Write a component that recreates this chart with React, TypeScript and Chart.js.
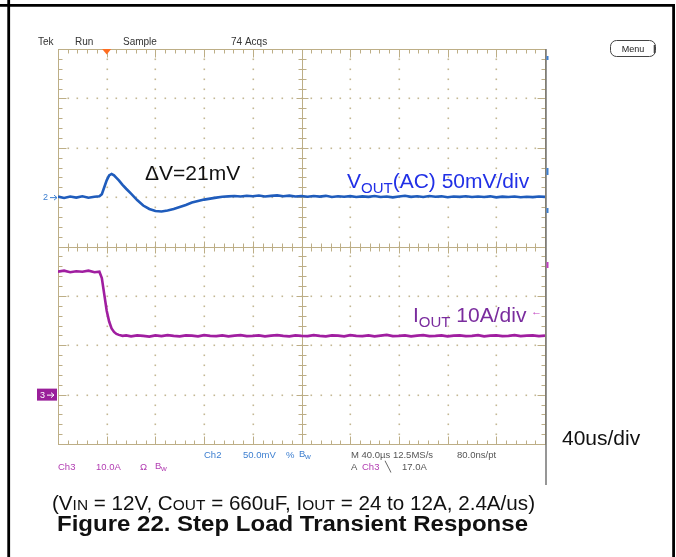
import React, { useEffect, useRef } from 'react';
import { Chart, registerables } from 'chart.js';

Chart.register(...registerables);

// ---- data (time in microseconds, Vout AC in mV, Iout in A) ----
const timeUs = [
  -40, -35, -30, -25, -20, -15, -10,
  -6, -4, -2, 0, 2, 4, 6, 8, 10,
  13, 16,
  20, 25, 30, 35, 40, 45, 50, 55, 60, 65,
  70, 75, 80, 85, 90, 95, 100, 105, 110, 115,
  120, 125, 130, 135, 140, 145, 150, 155, 160, 165,
  170, 175, 180, 185, 190, 195, 200, 205, 210, 215,
  220, 225, 230, 235, 240, 245, 250, 255, 260, 265,
  270, 275, 280, 285, 290, 295, 300, 305, 310, 315,
  320, 325, 330, 335, 340, 345, 350, 355, 360,
];

const voutMv = [
  0.5, -0.8, 0.6, -0.5, 0.9, -0.6, 0.3,
  0.8, 3, 10, 17, 22, 23.5, 22, 19.5, 17,
  12.5, 8.5,
  3.5, -3, -8.5, -12, -14, -14.5, -13.5, -12, -10, -8,
  -5.5, -4, -2.5, -1.5, -0.5, 0.3, 0.8, 1.2, 0.6, 1.4,
  0.9, 1.6, 0.7, 1.3, 1.8, 0.9, 1.5, 0.6, 1.2, 0.4,
  1.1, 0.5, 1.3, 0.2, 0.9, 0.4, 1.0, 0.1, 0.8, 0.3,
  1.1, 0.2, 0.7, -0.2, 0.6, 1.4, 0.3, 0.9, 0.2, 1.2,
  0.4, 0.8, -0.1, 0.7, 0.3, 0.9, 0.1, 0.6, 0.2, 0.8,
  -0.2, 0.5, 0.1, 0.7, -0.1, 0.4, 0.0, 0.6, 0.2,
];

const ioutA = [
  24.9, 25.1, 24.8, 25.0, 24.9, 25.1, 24.8,
  24.9, 23.6, 20.3, 17.0, 14.8, 13.4, 12.7, 12.3, 12.1,
  11.9, 12.0,
  11.8, 12.0, 11.9, 11.75, 12.0, 11.85, 12.05, 11.9, 11.8, 12.0,
  11.95, 11.8, 12.05, 11.9, 11.85, 12.0, 11.8, 11.95, 12.05, 11.85,
  11.9, 12.0, 11.8, 11.95, 12.05, 11.9, 11.8, 12.0, 11.9, 11.85,
  12.05, 11.9, 11.8, 12.0, 11.95, 11.8, 12.05, 11.9, 11.85, 12.0,
  11.8, 11.95, 12.1, 11.85, 11.9, 12.0, 11.8, 11.95, 12.05, 11.85,
  11.9, 12.0, 11.8, 11.95, 12.0, 11.85, 11.9, 12.05, 11.8, 11.95,
  12.0, 11.85, 11.9, 12.05, 11.85, 11.95, 12.0, 11.85, 11.95,
];

// scope settings
const timeRange = [-40, 360]; // 40 us/div, 10 div
const timeDiv = 40;
const voutRange = [-250, 150]; // 50 mV/div, ch2 ground 1 div above centre
const voltDiv = 50;
const ioutRange = [-10, 70]; // 10 A/div, ch3 ground 3 div below centre

const W = 676;
const H = 557;
const FONT = '"Liberation Sans", Arial, sans-serif';

type Part = { t: string; f: string; dy?: number; c?: string };

function rich(
  ctx: CanvasRenderingContext2D,
  x: number,
  y: number,
  parts: Part[],
  align: 'left' | 'center',
  color: string,
  targetWidth?: number,
) {
  let total = 0;
  for (const p of parts) {
    ctx.font = p.f;
    total += ctx.measureText(p.t).width;
  }
  const sx = targetWidth ? targetWidth / total : 1;
  const w = total * sx;
  const x0 = align === 'center' ? x - w / 2 : x;
  ctx.save();
  ctx.translate(x0, y);
  ctx.scale(sx, 1);
  let cx = 0;
  ctx.textBaseline = 'alphabetic';
  ctx.textAlign = 'left';
  for (const p of parts) {
    ctx.font = p.f;
    ctx.fillStyle = p.c || color;
    ctx.fillText(p.t, cx, p.dy || 0);
    cx += ctx.measureText(p.t).width;
  }
  ctx.restore();
}

const GRID = '#bdae86';
const DOT = '#c4b794';

const scopePlugin = {
  id: 'scopeDecor',
  beforeDraw(chart: any) {
    const ctx = chart.ctx as CanvasRenderingContext2D;
    ctx.save();
    ctx.fillStyle = '#ffffff';
    ctx.fillRect(0, 0, chart.width, chart.height);
    ctx.restore();
  },
  beforeDatasetsDraw(chart: any) {
    const ctx = chart.ctx as CanvasRenderingContext2D;
    const xs = chart.scales.x;
    const ys = chart.scales.yV;
    const L = Math.round(xs.getPixelForValue(timeRange[0])) + 0.5;
    const R = Math.round(xs.getPixelForValue(timeRange[1])) + 0.5;
    const T = Math.round(ys.getPixelForValue(voutRange[1])) + 0.5;
    const B = Math.round(ys.getPixelForValue(voutRange[0])) + 0.5;
    const nx = (timeRange[1] - timeRange[0]) / timeDiv;
    const ny = (voutRange[1] - voutRange[0]) / voltDiv;
    ctx.save();
    // dots along interior major lines
    ctx.fillStyle = DOT;
    for (let k = 1; k < nx; k++) {
      if (k === nx / 2) continue;
      const x = Math.round(xs.getPixelForValue(timeRange[0] + k * timeDiv));
      for (let m = 1; m < ny * 5; m++) {
        if (m % 5 === 0) continue;
        const y = Math.round(ys.getPixelForValue(voutRange[0] + (m * voltDiv) / 5));
        ctx.fillRect(x - 0.5, y - 0.5, 1.6, 1.6);
      }
    }
    for (let k = 1; k < ny; k++) {
      if (k === ny / 2) continue;
      const y = Math.round(ys.getPixelForValue(voutRange[0] + k * voltDiv));
      for (let m = 1; m < nx * 5; m++) {
        if (m % 5 === 0) continue;
        const x = Math.round(xs.getPixelForValue(timeRange[0] + (m * timeDiv) / 5));
        ctx.fillRect(x - 0.5, y - 0.5, 1.6, 1.6);
      }
    }
    // major intersections
    for (let i = 1; i < nx; i++) {
      for (let j = 1; j < ny; j++) {
        const x = Math.round(xs.getPixelForValue(timeRange[0] + i * timeDiv));
        const y = Math.round(ys.getPixelForValue(voutRange[0] + j * voltDiv));
        ctx.fillRect(x - 0.5, y - 0.5, 1.6, 1.6);
      }
    }
    ctx.strokeStyle = GRID;
    ctx.lineWidth = 1;
    // border
    ctx.strokeRect(L, T, R - L, B - T);
    // centre lines
    const cxp = Math.round(xs.getPixelForValue(timeRange[0] + (nx / 2) * timeDiv)) + 0.5;
    const cyp = Math.round(ys.getPixelForValue(voutRange[0] + (ny / 2) * voltDiv)) + 0.5;
    ctx.beginPath();
    ctx.moveTo(cxp, T);
    ctx.lineTo(cxp, B);
    ctx.moveTo(L, cyp);
    ctx.lineTo(R, cyp);
    // ticks along x (top, bottom, centre)
    for (let m = 1; m < nx * 5; m++) {
      const x = Math.round(xs.getPixelForValue(timeRange[0] + (m * timeDiv) / 5)) + 0.5;
      const major = m % 5 === 0;
      const len = major ? 8 : 4;
      ctx.moveTo(x, T);
      ctx.lineTo(x, T + len);
      ctx.moveTo(x, B);
      ctx.lineTo(x, B - len);
      ctx.moveTo(x, cyp - (major ? 6 : 4));
      ctx.lineTo(x, cyp + (major ? 6 : 4));
    }
    for (let m = 1; m < ny * 5; m++) {
      const y = Math.round(ys.getPixelForValue(voutRange[0] + (m * voltDiv) / 5)) + 0.5;
      const major = m % 5 === 0;
      const len = major ? 8 : 4;
      ctx.moveTo(L, y);
      ctx.lineTo(L + len, y);
      ctx.moveTo(R, y);
      ctx.lineTo(R - len, y);
      ctx.moveTo(cxp - (major ? 6 : 4), y);
      ctx.lineTo(cxp + (major ? 6 : 4), y);
    }
    ctx.stroke();
    ctx.restore();
  },
  afterDraw(chart: any) {
    const ctx = chart.ctx as CanvasRenderingContext2D;
    const xs = chart.scales.x;
    const ys = chart.scales.yV;
    const yi = chart.scales.yI;
    const T = ys.getPixelForValue(voutRange[1]);
    const R = xs.getPixelForValue(timeRange[1]);
    ctx.save();

    // outer frame
    ctx.strokeStyle = '#000';
    ctx.lineWidth = 2.8;
    ctx.beginPath();
    ctx.moveTo(0, 5.3);
    ctx.lineTo(675, 5.3);
    ctx.moveTo(8.7, 0);
    ctx.lineTo(8.7, H);
    ctx.moveTo(673.6, 4);
    ctx.lineTo(673.6, H);
    ctx.stroke();

    // scope right edge line
    ctx.strokeStyle = '#6a6a6a';
    ctx.lineWidth = 1.4;
    ctx.beginPath();
    ctx.moveTo(R + 1, T);
    ctx.lineTo(R + 1, 485);
    ctx.stroke();
    ctx.fillStyle = '#3d7fd0';
    ctx.fillRect(R + 1.5, 56, 2, 4);
    ctx.fillRect(R + 1.5, 168, 2, 7);
    ctx.fillRect(R + 1.5, 208, 2, 5);
    ctx.fillStyle = '#c040c0';
    ctx.fillRect(R + 1.5, 262, 2, 6);

    // trigger marker
    const tx = xs.getPixelForValue(0);
    ctx.fillStyle = '#ff6d1f';
    ctx.beginPath();
    ctx.moveTo(tx - 4.5, T);
    ctx.lineTo(tx + 4.5, T);
    ctx.lineTo(tx, T + 5.5);
    ctx.closePath();
    ctx.fill();

    // channel ground markers
    const g2 = ys.getPixelForValue(0);
    ctx.fillStyle = '#3d7fd0';
    ctx.font = `9px ${FONT}`;
    ctx.textBaseline = 'middle';
    ctx.fillText('2', 43, g2 + 0.5);
    ctx.strokeStyle = '#3d7fd0';
    ctx.lineWidth = 1;
    ctx.beginPath();
    ctx.moveTo(50, g2 + 0.5);
    ctx.lineTo(57, g2 + 0.5);
    ctx.moveTo(54, g2 - 2);
    ctx.lineTo(57, g2 + 0.5);
    ctx.lineTo(54, g2 + 3);
    ctx.stroke();

    const g3 = yi.getPixelForValue(0);
    ctx.fillStyle = '#9a1f9a';
    ctx.fillRect(37, g3 - 6, 20, 12);
    ctx.fillStyle = '#fff';
    ctx.fillText('3', 40, g3 + 0.5);
    ctx.strokeStyle = '#fff';
    ctx.beginPath();
    ctx.moveTo(47, g3 + 0.5);
    ctx.lineTo(54, g3 + 0.5);
    ctx.moveTo(51, g3 - 2);
    ctx.lineTo(54, g3 + 0.5);
    ctx.lineTo(51, g3 + 3);
    ctx.stroke();

    // header texts
    ctx.textBaseline = 'alphabetic';
    ctx.fillStyle = '#333';
    ctx.font = `10px ${FONT}`;
    ctx.fillText('Tek', 38, 45);
    ctx.fillText('Run', 75, 45);
    ctx.fillText('Sample', 123, 45);
    ctx.fillText('74 Acqs', 231, 45);

    // Menu button
    ctx.strokeStyle = '#444';
    ctx.lineWidth = 1;
    ctx.beginPath();
    ctx.roundRect(610.5, 40.5, 45, 16, 6);
    ctx.stroke();
    ctx.lineWidth = 1.6;
    ctx.beginPath();
    ctx.moveTo(654.5, 45);
    ctx.lineTo(654.5, 53);
    ctx.stroke();
    ctx.fillStyle = '#222';
    ctx.font = `9px ${FONT}`;
    ctx.textAlign = 'center';
    ctx.fillText('Menu', 633, 52);
    ctx.textAlign = 'left';

    // bottom readouts
    ctx.font = `9.5px ${FONT}`;
    ctx.fillStyle = '#3d7fd0';
    ctx.fillText('Ch2', 204, 458);
    ctx.fillText('50.0mV', 243, 458);
    ctx.fillText('%', 286, 458);
    ctx.fillText('B', 299, 457);
    ctx.font = `8px ${FONT}`;
    ctx.fillText('w', 305, 459);
    ctx.font = `9.5px ${FONT}`;
    ctx.fillStyle = '#b23db2';
    ctx.fillText('Ch3', 58, 470);
    ctx.fillText('10.0A', 96, 470);
    ctx.fillText('\u03a9', 140, 470);
    ctx.fillText('B', 155, 469);
    ctx.font = `8px ${FONT}`;
    ctx.fillText('w', 161, 471);
    ctx.font = `9.5px ${FONT}`;
    ctx.fillStyle = '#555';
    ctx.fillText('M 40.0\u00b5s 12.5MS/s', 351, 458);
    ctx.fillText('80.0ns/pt', 457, 458);
    ctx.fillText('A', 351, 470);
    ctx.fillStyle = '#b23db2';
    ctx.fillText('Ch3', 362, 470);
    ctx.fillStyle = '#555';
    ctx.fillText('\u2572', 385, 470);
    ctx.fillText('17.0A', 402, 470);

    // annotations
    ctx.fillStyle = '#111';
    ctx.font = `21px ${FONT}`;
    ctx.fillText('\u0394V=21mV', 145, 180);

    rich(ctx, 347, 188, [
      { t: 'V', f: `21px ${FONT}` },
      { t: 'OUT', f: `15px ${FONT}`, dy: 5 },
      { t: '(AC) 50mV/div', f: `21px ${FONT}` },
    ], 'left', '#2130e6');

    rich(ctx, 413, 322, [
      { t: 'I', f: `21px ${FONT}` },
      { t: 'OUT', f: `15px ${FONT}`, dy: 5 },
      { t: ' 10A/div', f: `21px ${FONT}` },
    ], 'left', '#7a2c9e');

    ctx.fillStyle = '#c040c0';
    ctx.font = `11px ${FONT}`;
    ctx.fillText('\u2190', 531, 315);

    ctx.fillStyle = '#111';
    ctx.font = `21px ${FONT}`;
    ctx.fillText('40us/div', 562, 445);

    // caption
    rich(ctx, 293.5, 510, [
      { t: '(V', f: `20px ${FONT}` },
      { t: 'IN', f: `15px ${FONT}` },
      { t: ' = 12V, C', f: `20px ${FONT}` },
      { t: 'OUT', f: `15px ${FONT}` },
      { t: ' = 660uF, I', f: `20px ${FONT}` },
      { t: 'OUT', f: `15px ${FONT}` },
      { t: ' = 24 to 12A, 2.4A/us)', f: `20px ${FONT}` },
    ], 'center', '#111', 483);

    rich(ctx, 292.5, 530.5, [
      { t: 'Figure 22. Step Load Transient Response', f: `bold 22px ${FONT}` },
    ], 'center', '#111', 471);

    ctx.restore();
  },
};

export default function App() {
  const canvasRef = useRef<HTMLCanvasElement | null>(null);

  useEffect(() => {
    const canvas = canvasRef.current;
    if (!canvas) return;
    const vPoints = timeUs.map((t, i) => ({ x: t, y: voutMv[i] }));
    const iPoints = timeUs.map((t, i) => ({ x: t, y: ioutA[i] }));
    const chart = new Chart(canvas, {
      type: 'line',
      data: {
        datasets: [
          {
            label: 'VOUT (AC)',
            data: vPoints,
            yAxisID: 'yV',
            borderColor: '#1f5cbc',
            borderWidth: 2.6,
            pointRadius: 0,
            tension: 0,
          },
          {
            label: 'IOUT',
            data: iPoints,
            yAxisID: 'yI',
            borderColor: '#a01ea0',
            borderWidth: 2.6,
            pointRadius: 0,
            tension: 0,
          },
        ],
      },
      options: {
        responsive: false,
        maintainAspectRatio: false,
        devicePixelRatio: 1,
        animation: false,
        events: [],
        layout: { padding: { left: 58, top: 49, right: W - 545, bottom: H - 444 } },
        plugins: { legend: { display: false }, tooltip: { enabled: false } },
        scales: {
          x: { type: 'linear', display: false, min: timeRange[0], max: timeRange[1] },
          yV: { type: 'linear', display: false, min: voutRange[0], max: voutRange[1] },
          yI: { type: 'linear', display: false, min: ioutRange[0], max: ioutRange[1] },
        },
      },
      plugins: [scopePlugin],
    });
    return () => chart.destroy();
  }, []);

  return (
    <div style={{ position: 'absolute', left: 0, top: 0, width: W, height: H, background: '#fff' }}>
      <canvas ref={canvasRef} width={W} height={H} style={{ width: W, height: H, display: 'block' }} />
    </div>
  );
}
